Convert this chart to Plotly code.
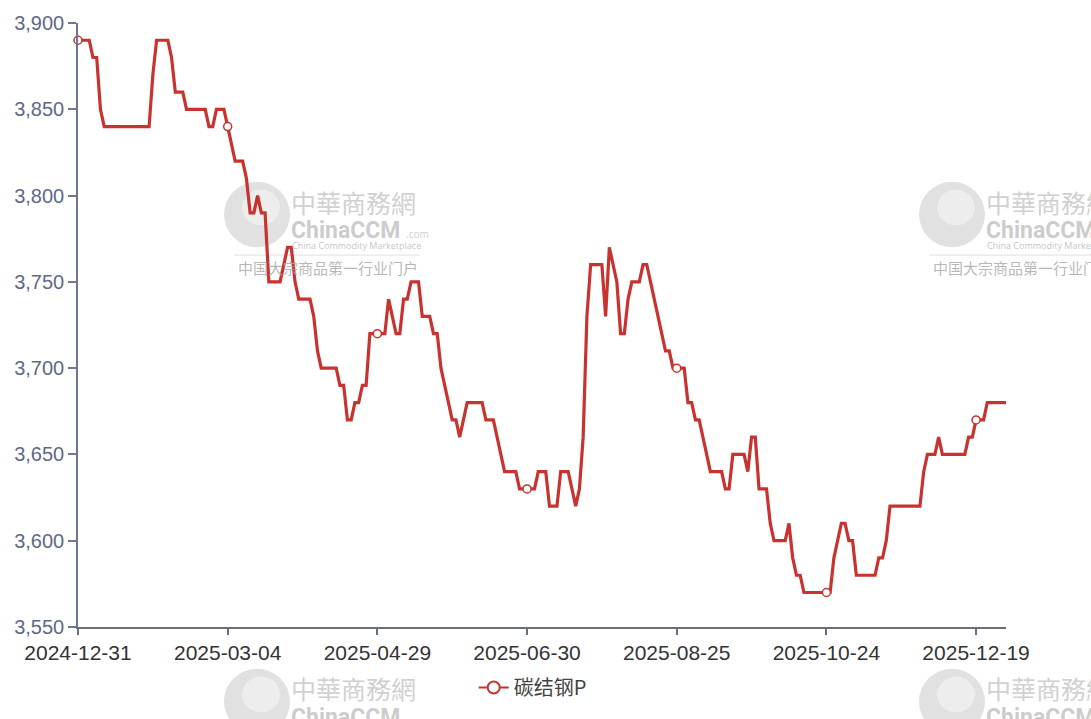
import plotly.graph_objects as go
import pandas as pd

# ---- categories: Chinese trading days 2024-12-31 .. 2025-12-31 ----
HOLIDAYS_2025 = ['2025-01-01', '2025-01-28', '2025-01-29', '2025-01-30', '2025-01-31',
                 '2025-02-03', '2025-02-04', '2025-04-04', '2025-05-01', '2025-05-02',
                 '2025-05-05', '2025-06-02', '2025-10-01', '2025-10-02', '2025-10-03',
                 '2025-10-06', '2025-10-07', '2025-10-08']
MAKEUP_DAYS_2025 = ['2025-01-26', '2025-02-08', '2025-04-27', '2025-09-28', '2025-10-11']
weekdays = set(pd.bdate_range('2025-01-01', '2025-12-31').strftime('%Y-%m-%d'))
dates = ['2024-12-31'] + sorted((weekdays - set(HOLIDAYS_2025)) | set(MAKEUP_DAYS_2025))

tick_labels = ['2024-12-31', '2025-03-04', '2025-04-29', '2025-06-30',
               '2025-08-25', '2025-10-24', '2025-12-19']

series_name = '碳结钢P'
prices = [
    3890, 3890, 3890, 3890, 3880, 3880, 3850, 3840, 3840, 3840,
    3840, 3840, 3840, 3840, 3840, 3840, 3840, 3840, 3840, 3840,
    3870, 3890, 3890, 3890, 3890, 3880, 3860, 3860, 3860, 3850,
    3850, 3850, 3850, 3850, 3850, 3840, 3840, 3850, 3850, 3850,
    3840, 3830, 3820, 3820, 3820, 3810, 3790, 3790, 3800, 3790,
    3790, 3750, 3750, 3750, 3750, 3760, 3770, 3770, 3750, 3740,
    3740, 3740, 3740, 3730, 3710, 3700, 3700, 3700, 3700, 3700,
    3690, 3690, 3670, 3670, 3680, 3680, 3690, 3690, 3720, 3720,
    3720, 3720, 3720, 3740, 3730, 3720, 3720, 3740, 3740, 3750,
    3750, 3750, 3730, 3730, 3730, 3720, 3720, 3700, 3690, 3680,
    3670, 3670, 3660, 3670, 3680, 3680, 3680, 3680, 3680, 3670,
    3670, 3670, 3660, 3650, 3640, 3640, 3640, 3640, 3630, 3630,
    3630, 3630, 3630, 3640, 3640, 3640, 3620, 3620, 3620, 3640,
    3640, 3640, 3630, 3620, 3630, 3660, 3730, 3760, 3760, 3760,
    3760, 3730, 3770, 3760, 3750, 3720, 3720, 3740, 3750, 3750,
    3750, 3760, 3760, 3750, 3740, 3730, 3720, 3710, 3710, 3700,
    3700, 3700, 3700, 3680, 3680, 3670, 3670, 3660, 3650, 3640,
    3640, 3640, 3640, 3630, 3630, 3650, 3650, 3650, 3650, 3640,
    3660, 3660, 3630, 3630, 3630, 3610, 3600, 3600, 3600, 3600,
    3610, 3590, 3580, 3580, 3570, 3570, 3570, 3570, 3570, 3570,
    3570, 3570, 3590, 3600, 3610, 3610, 3600, 3600, 3580, 3580,
    3580, 3580, 3580, 3580, 3590, 3590, 3600, 3620, 3620, 3620,
    3620, 3620, 3620, 3620, 3620, 3620, 3640, 3650, 3650, 3650,
    3660, 3650, 3650, 3650, 3650, 3650, 3650, 3650, 3660, 3660,
    3670, 3670, 3670, 3680, 3680, 3680, 3680, 3680, 3680,
]

n = min(len(dates), len(prices))
dates = dates[:n]
prices = prices[:n]
price_at = dict(zip(dates, prices))
marker_x = [d for d in tick_labels if d in price_at]
marker_y = [price_at[d] for d in marker_x]

RED = '#c8332f'

fig = go.Figure()
fig.add_trace(go.Scatter(
    x=dates, y=prices, mode='lines', name=series_name, showlegend=False,
    line=dict(color=RED, width=3.2), hoverinfo='x+y'))
fig.add_trace(go.Scatter(
    x=marker_x, y=marker_y, mode='markers', showlegend=False, cliponaxis=False,
    marker=dict(symbol='circle', size=8, color='white', line=dict(color=RED, width=1.5))))
fig.add_trace(go.Scatter(
    x=[None], y=[None], mode='lines+markers', name=series_name,
    line=dict(color=RED, width=2),
    marker=dict(symbol='circle', size=12, color='white', line=dict(color=RED, width=2))))

# ---- layout geometry (pixels) ----
W, H = 1091, 719
L, R, T, B = 78, 85, 20, 90
PW, PH = W - L - R, H - T - B


def px2paper(px, py):
    return (px - L) / PW, (H - B - py) / PH


# ---- watermark decoration ----
shapes = []
annotations = []
for ox, oy in [(228, 180), (923, 180), (228, 671), (923, 671)]:
    x0, y0 = px2paper(ox - 4, oy + 66)
    x1, y1 = px2paper(ox + 62, oy)
    shapes.append(dict(type='circle', xref='paper', yref='paper', x0=x0, y0=y0, x1=x1, y1=y1,
                       fillcolor='rgba(215,215,215,0.75)', line=dict(width=0), layer='below'))
    hx0, hy0 = px2paper(ox + 14, oy + 44)
    hx1, hy1 = px2paper(ox + 52, oy + 8)
    shapes.append(dict(type='circle', xref='paper', yref='paper', x0=hx0, y0=hy0, x1=hx1, y1=hy1,
                       fillcolor='rgba(240,240,240,0.8)', line=dict(width=0), layer='below'))
    if oy + 74 < H:
        lx0, ly = px2paper(ox + 6, oy + 74)
        lx1, _ = px2paper(ox + 192, oy + 74)
        shapes.append(dict(type='line', xref='paper', yref='paper', x0=lx0, y0=ly, x1=lx1, y1=ly,
                           line=dict(color='rgba(225,225,225,1)', width=1), layer='below'))
    for text, dx, dy, size, color, fam in [
        ('中華商務網', 61, 20, 25, 'rgba(200,200,200,0.85)', 'Noto Sans CJK TC'),
        ('<b>ChinaCCM</b>', 61, 49, 23, 'rgba(195,195,195,0.85)', 'Liberation Sans Narrow, Roboto, sans-serif'),
        ('.com', 176, 53, 10, 'rgba(195,195,195,0.85)', 'Open Sans'),
        ('China Commodity Marketplace', 62, 64, 9, 'rgba(185,185,185,0.85)', 'Open Sans'),
        ('中国大宗商品第一行业门户', 8, 87, 15, 'rgba(170,170,170,0.85)', 'Noto Sans CJK SC'),
    ]:
        if oy + dy - size / 2 > H:
            continue
        if oy + dy > H - 2 and text != '<b>ChinaCCM</b>':
            continue
        ax, ay = px2paper(ox + dx, oy + dy)
        annotations.append(dict(text=text, x=ax, y=ay, xref='paper', yref='paper',
                                xanchor='left', yanchor='middle', showarrow=False,
                                font=dict(size=size, color=color, family=fam)))

fig.update_layout(
    width=W, height=H,
    margin=dict(l=L, r=R, t=T, b=B, pad=0),
    paper_bgcolor='white', plot_bgcolor='white',
    font=dict(family='Liberation Sans, Arial, sans-serif'),
    showlegend=True,
    legend=dict(orientation='h', x=0.49, xanchor='center', y=(H - B - 690) / PH, yanchor='middle',
                font=dict(size=20, color='#444444', family='Noto Sans CJK SC, sans-serif'),
                bgcolor='rgba(0,0,0,0)'),
    shapes=shapes,
    annotations=annotations,
    xaxis=dict(
        type='category', categoryorder='array', categoryarray=dates,
        range=[0, n - 1], showgrid=False, zeroline=False,
        showline=True, linecolor='#6b6f7a', linewidth=2,
        ticks='outside', ticklen=6, tickwidth=1.5, tickcolor='#6b6f7a',
        tickmode='array', tickvals=tick_labels, ticktext=tick_labels,
        tickfont=dict(size=21, color='#333333'),
    ),
    yaxis=dict(
        range=[3550, 3900], dtick=50, tick0=3550, tickformat=',',
        showgrid=False, zeroline=False,
        showline=True, linecolor='#6e7594', linewidth=1.5,
        ticks='outside', ticklen=8, tickwidth=1.5, tickcolor='#6e7594',
        tickfont=dict(size=20, color='#5f6887'),
    ),
)

fig.write_html('out.html')
